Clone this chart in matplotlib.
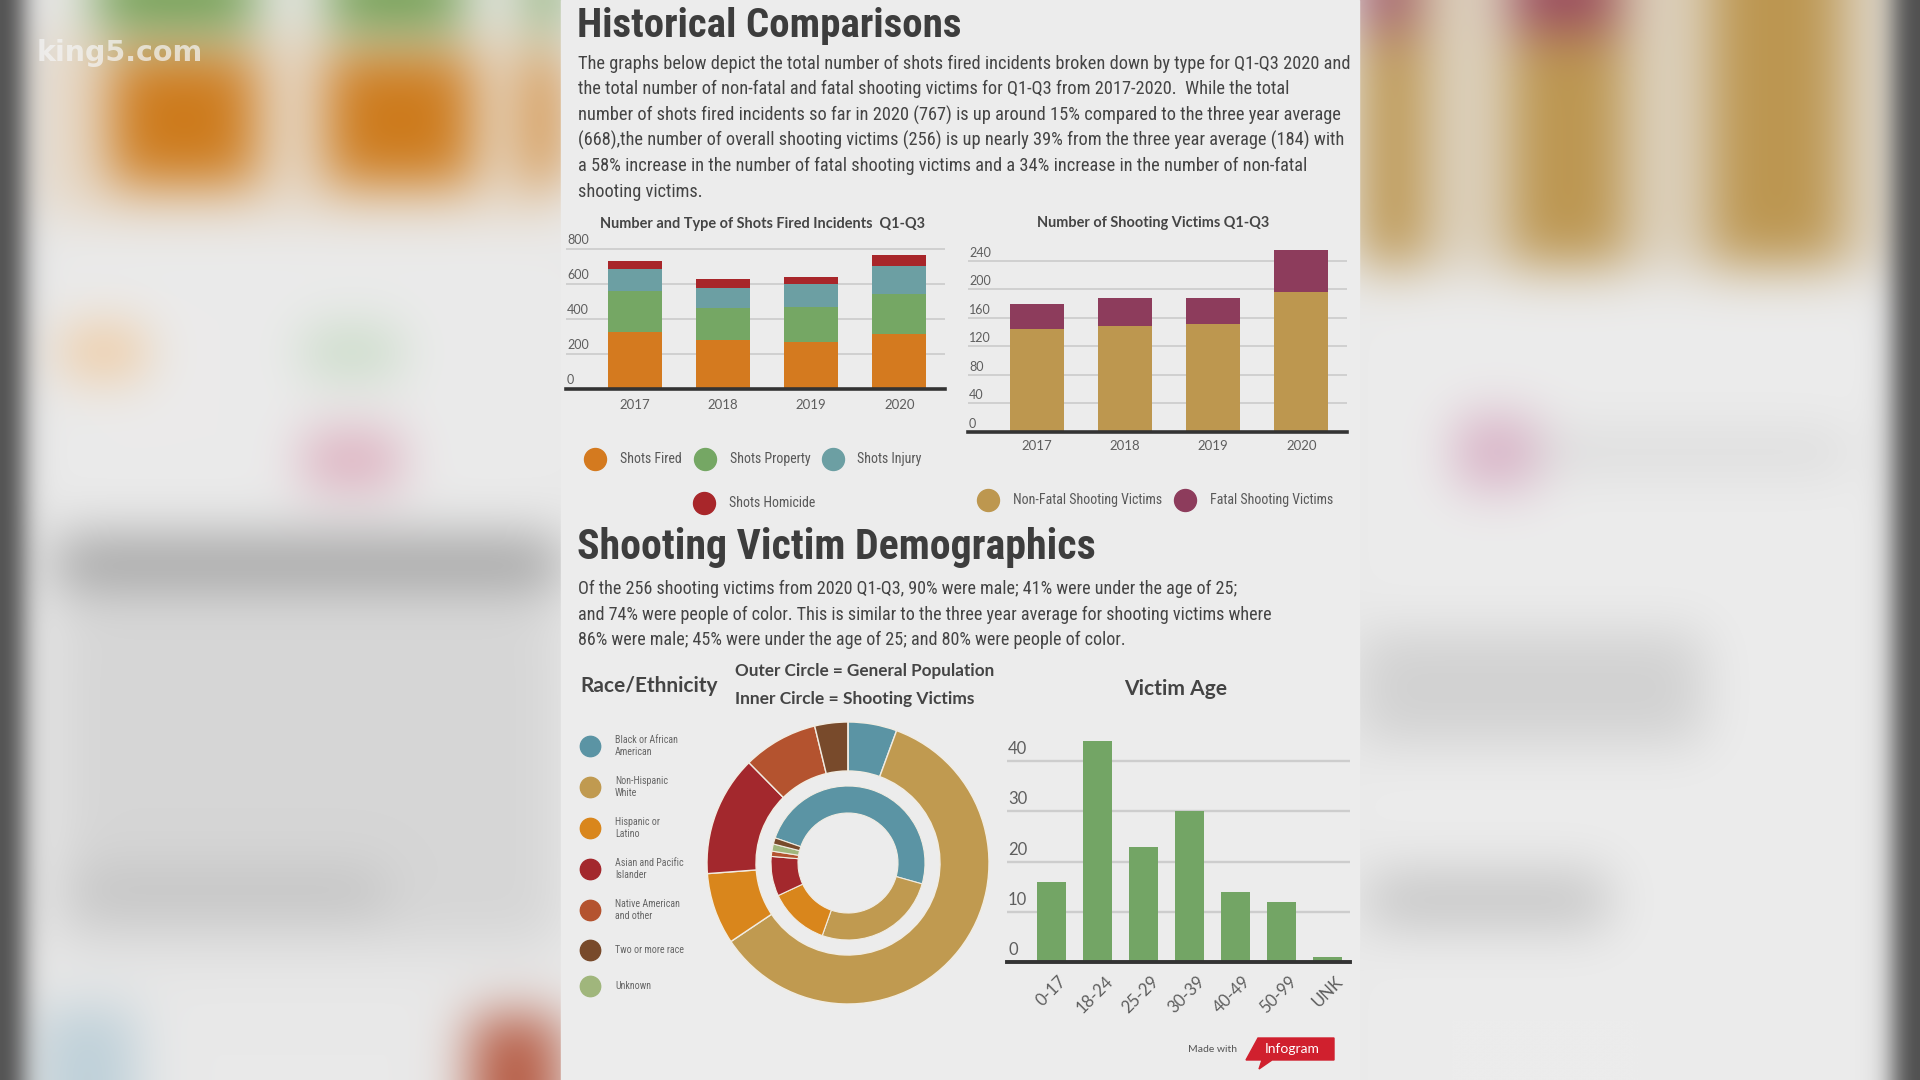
import numpy as np
import matplotlib
matplotlib.use('Agg')
import matplotlib.pyplot as plt
from matplotlib import font_manager as fm
from matplotlib.colors import to_rgb
from matplotlib.patches import Rectangle, Polygon
from matplotlib.transforms import ScaledTranslation

years = ['2017', '2018', '2019', '2020']
shots_fired = [330, 282, 269, 314]
shots_property = [232, 181, 203, 233]
shots_injury = [126, 118, 128, 155]
shots_homicide = [45, 46, 42, 65]

nonfatal_victims = [144, 148, 151, 197]
fatal_victims = [36, 40, 37, 59]

age_groups = ['0-17', '18-24', '25-29', '30-39', '40-49', '50-99', 'UNK']
age_counts = [16, 44, 23, 30, 14, 12, 1]

race_labels = ['Black or African\nAmerican', 'Non-Hispanic\nWhite', 'Hispanic or\nLatino',
               'Asian and Pacific\nIslander', 'Native American\nand other', 'Two or more race', 'Unknown']
general_population = [5.6, 60.0, 8.2, 13.8, 8.6, 3.8, 0.0]   # outer ring, %
shooting_victims = [49.0, 26.0, 12.6, 8.3, 1.1, 1.3, 1.5]     # inner ring, %
inner_order = [0, 1, 2, 3, 4, 6, 5]

shot_labels = ['Shots Fired', 'Shots Property', 'Shots Injury', 'Shots Homicide']
victim_labels = ['Non-Fatal Shooting Victims', 'Fatal Shooting Victims']

# ---- colours ----
c_fired, c_prop, c_inj, c_hom = '#d47a1f', '#75a764', '#6c9fa3', '#a8262a'
c_nonfatal, c_fatal = '#bd974f', '#8d3c5c'
race_colors = ['#5b94a4', '#c09a50', '#d9861c', '#a3282d', '#b4532f', '#784a2b', '#a0b67c']
c_age = '#73a565'
ink = '#3d3d3d'
tick_c = '#5e5e5e'
grid_c = '#cdcdcd'

names = {f.name for f in fm.fontManager.ttflist}
NARROW = next((n for n in ['Liberation Sans Narrow', 'Roboto Condensed', 'Open Sans Condensed']
               if n in names), 'Roboto')
SANS = 'Lato'

W, H = 1920, 1080
fig = plt.figure(figsize=(19.2, 10.8), dpi=100)


def rect(x0, y0, x1, y1):
    return [x0 / W, 1 - y1 / H, (x1 - x0) / W, (y1 - y0) / H]


# ---- blurred TV background (zoomed copy of the same page) ----
bg = fig.add_axes([0, 0, 1, 1])
bg.set_axis_off()
yy, xx = np.mgrid[4:1080:8, 4:1920:8]
img = np.full(xx.shape + (3,), 0.915)


def box(x0, y0, x1, y1, col, a=1.0):
    m = ((xx >= x0) & (xx <= x1) & (yy >= y0) & (yy <= y1)).astype(float)[..., None] * a
    img[:] = img * (1 - m) + np.array(to_rgb(col)) * m


# left side
box(40, 30, 561, 215, '#e6d6c2', 0.9)
box(100, 0, 255, 34, '#77a45c')
box(325, 0, 465, 34, '#77a45c')
box(530, 0, 561, 34, '#77a45c')
box(114, 60, 254, 186, '#cd7a1b')
box(328, 60, 468, 186, '#cd7a1b')
box(532, 60, 561, 186, '#cd7a1b')
box(60, 250, 561, 520, '#ebebeb')
box(62, 326, 142, 378, '#f0c18c', 0.85)
box(306, 326, 402, 378, '#c2d8bf', 0.85)
box(302, 430, 398, 490, '#dba6b8', 0.9)
box(60, 540, 561, 590, '#a0a0a0', 0.95)
box(60, 610, 561, 1000, '#d4d4d4', 0.9)
box(70, 876, 380, 912, '#bfbfbf', 0.9)
box(60, 945, 561, 1080, '#e9e9e9', 0.9)
box(38, 1010, 132, 1080, '#bccfd8', 0.95)
box(476, 1020, 561, 1080, '#b3533a', 0.95)
# right side
box(1359, 0, 1895, 272, '#ddd2bf')
box(1359, 0, 1420, 265, '#bc9650')
box(1510, 0, 1627, 265, '#bc9650')
box(1710, 0, 1837, 265, '#bc9650')
box(1359, 0, 1414, 28, '#a05a6c')
box(1513, 0, 1612, 28, '#9a4c61')
box(1359, 300, 1895, 1080, '#ececec')
box(1460, 420, 1537, 485, '#d6aac1', 0.9)
box(1540, 430, 1850, 470, '#d9d9d9', 0.85)
box(1359, 632, 1700, 740, '#d0d0d0', 0.95)
box(1370, 872, 1610, 925, '#c4c4c4', 0.95)

# soften everything like an out-of-focus zoom
k = np.exp(-0.5 * (np.arange(-10, 11) / 3.2) ** 2)
k /= k.sum()
pad = np.pad(img, ((10, 10), (0, 0), (0, 0)), mode='edge')
img = np.stack([np.apply_along_axis(np.convolve, 0, pad[..., c], k, 'valid') for c in range(3)], -1)
pad = np.pad(img, ((0, 0), (10, 10), (0, 0)), mode='edge')
img = np.stack([np.apply_along_axis(np.convolve, 1, pad[..., c], k, 'valid') for c in range(3)], -1)

# darkened screen edges
edge = (1 / (1 + np.exp((xx - 24) / 7)) + 1 / (1 + np.exp((1893 - xx) / 7)))[..., None]
img = img * (1 - edge) + np.array(to_rgb('#4c4c4c')) * edge

bg.imshow(np.clip(img, 0, 1), extent=[0, W, H, 0], interpolation='bicubic', aspect='auto')
bg.add_patch(Rectangle((561, 0), 798, 1080, color='#ececec'))
bg.set_xlim(0, W)
bg.set_ylim(H, 0)


def style_bar_axes(ax, ticks, fs, dy):
    ax.set_facecolor('none')
    for s in ax.spines.values():
        s.set_visible(False)
    ax.set_yticks(ticks)
    ax.set_yticklabels([])
    ax.tick_params(axis='y', length=0)
    ax.tick_params(axis='x', length=0, colors=tick_c)
    ax.yaxis.grid(True, color=grid_c, lw=1.3)
    ax.set_axisbelow(True)
    for v in ticks:
        ax.annotate(str(v), xy=(0, v), xycoords=ax.get_yaxis_transform(), xytext=(1, dy),
                    textcoords='offset pixels', ha='left', va='center', fontsize=fs,
                    color=tick_c, family=SANS)


# ---- chart 1: shots fired incidents ----
ax1 = fig.add_axes(rect(566, 245, 945, 389.3))
x = np.arange(len(years))
bottom = np.zeros(len(years))
for vals, col in zip([shots_fired, shots_property, shots_injury, shots_homicide],
                     [c_fired, c_prop, c_inj, c_hom]):
    ax1.bar(x, vals, bottom=bottom, width=0.61, color=col, zorder=2)
    bottom += np.array(vals)
ax1.set_xlim(-0.784, 3.52)
ax1.set_ylim(0, 824)
style_bar_axes(ax1, [0, 200, 400, 600, 800], 9, 9)
ax1.set_xticks(x)
ax1.set_xticklabels(years, fontsize=9.5, family=SANS)
ax1.tick_params(axis='x', pad=7)
ax1.axhline(0, color='#333333', lw=2.6, clip_on=False, zorder=3)

# ---- chart 2: shooting victims ----
ax2 = fig.add_axes(rect(968, 240, 1347, 431.7))
ax2.bar(x, nonfatal_victims, width=0.61, color=c_nonfatal, zorder=2)
ax2.bar(x, fatal_victims, bottom=nonfatal_victims, width=0.61, color=c_fatal, zorder=2)
ax2.set_xlim(-0.784, 3.52)
ax2.set_ylim(0, 269.6)
style_bar_axes(ax2, [0, 40, 80, 120, 160, 200, 240], 9, 8)
ax2.set_xticks(x)
ax2.set_xticklabels(years, fontsize=9.5, family=SANS)
ax2.tick_params(axis='x', pad=6)
ax2.axhline(0, color='#333333', lw=2.6, clip_on=False, zorder=3)

# ---- chart 3: victim age ----
ax3 = fig.add_axes(rect(1007, 730, 1350, 962.3))
xa = np.arange(len(age_groups))
ax3.bar(xa, age_counts, width=0.63, color=c_age, zorder=2)
ax3.set_xlim(-0.967, 6.49)
ax3.set_ylim(0, 46.2)
style_bar_axes(ax3, [0, 10, 20, 30, 40], 12, 12)
ax3.yaxis.grid(True, color=grid_c, lw=1.7)
ax3.set_xticks(xa)
ax3.set_xticklabels(age_groups, fontsize=12, family=SANS, rotation=45, ha='right',
                    rotation_mode='anchor')
ax3.tick_params(axis='x', pad=8)
for lab in ax3.get_xticklabels():
    lab.set_transform(lab.get_transform() + ScaledTranslation(0.07, 0, fig.dpi_scale_trans))
ax3.axhline(0, color='#333333', lw=2.8, clip_on=False, zorder=3)

# ---- donut: race / ethnicity ----
pax = fig.add_axes(rect(848 - 146, 863 - 146, 848 + 146, 863 + 146))
pax.pie(general_population, radius=141, colors=race_colors, startangle=90, counterclock=False,
        wedgeprops=dict(width=49, edgecolor='#f1ece2', linewidth=1.0))
pax.pie([shooting_victims[i] for i in inner_order], radius=77,
        colors=[race_colors[i] for i in inner_order], startangle=161, counterclock=False,
        wedgeprops=dict(width=27, edgecolor='#f1ece2', linewidth=0.8))
pax.set_xlim(-146, 146)
pax.set_ylim(-146, 146)
pax.set_aspect('equal')
pax.set_axis_off()

# ---- text overlay (pixel coordinates) ----
ov = fig.add_axes([0, 0, 1, 1], zorder=10)
ov.set_xlim(0, W)
ov.set_ylim(H, 0)
ov.set_axis_off()
ov.patch.set_alpha(0)
renderer = fig.canvas.get_renderer()


def fit(t, width):
    bb = t.get_window_extent(renderer)
    t.set_fontsize(t.get_fontsize() * width / bb.width)
    return t.get_fontsize()


def txt(xp, yp, s, size, family=NARROW, color=ink, weight='normal', ha='left', **kw):
    return ov.text(xp, yp, s, fontsize=size, family=family, color=color, weight=weight,
                   ha=ha, va='center', **kw)


t = txt(577, 26, 'Historical Comparisons', 30, weight='bold')
fit(t, 385)

p1 = ["The graphs below depict the total number of shots fired incidents broken down by type for Q1-Q3 2020 and",
      "the total number of non-fatal and fatal shooting victims for Q1-Q3 from 2017-2020.  While the total",
      "number of shots fired incidents so far in 2020 (767) is up around 15% compared to the three year average",
      "(668),the number of overall shooting victims (256) is up nearly 39% from the three year average (184) with",
      "a 58% increase in the number of fatal shooting victims and a 34% increase in the number of non-fatal",
      "shooting victims."]
p1_y = [63.5, 89, 115, 140.6, 166.3, 192]
t = txt(578, p1_y[0], p1[0], 12, color='#444444')
fs = fit(t, 769)
for s, yv in zip(p1[1:], p1_y[1:]):
    txt(578, yv, s, fs, color='#444444')

t = txt(577, 548, 'Shooting Victim Demographics', 30, weight='bold')
fit(t, 519)

p2 = ["Of the 256 shooting victims from 2020 Q1-Q3, 90% were male; 41% were under the age of 25;",
      "and 74% were people of color. This is similar to the three year average for shooting victims where",
      "86% were male; 45% were under the age of 25; and 80% were people of color."]
p2_y = [589, 614.5, 640]
t = txt(578, p2_y[1], p2[1], 12, color='#444444')
fs = fit(t, 693)
for s, yv in zip([p2[0], p2[2]], [p2_y[0], p2_y[2]]):
    txt(578, yv, s, fs, color='#444444')

# chart headings
t = txt(763, 224, 'Number and Type of Shots Fired Incidents  Q1-Q3', 10, family=SANS,
        weight='bold', color='#454545', ha='center')
fit(t, 327)
t = txt(1153, 223, 'Number of Shooting Victims Q1-Q3', 10, family=SANS, weight='bold',
        color='#454545', ha='center')
fit(t, 233)
t = txt(580, 686, 'Race/Ethnicity', 14, family=SANS, weight='bold', color='#444444')
fit(t, 139)
t = txt(735, 671, 'Outer Circle = General Population', 12, family=SANS, weight='bold', color='#444444')
fit(t, 258)
t = txt(735, 699, 'Inner Circle = Shooting Victims', 12, family=SANS, weight='bold', color='#444444')
fit(t, 237)
t = txt(1176, 689, 'Victim Age', 14, family=SANS, weight='bold', color='#444444', ha='center')
fit(t, 103)

# legends
leg1 = [(595, 459, 620), (705, 459, 730), (833, 459, 857), (704, 503, 729)]
for (cx, cy, lx), lab, col in zip(leg1, shot_labels, [c_fired, c_prop, c_inj, c_hom]):
    ov.scatter([cx], [cy], s=250, color=col, zorder=5)
    txt(lx, cy, lab, 10, color='#585858')
for cx, lx, lab, col in zip([988, 1185], [1013, 1210], victim_labels, [c_nonfatal, c_fatal]):
    ov.scatter([cx], [500], s=250, color=col, zorder=5)
    txt(lx, 500, lab, 10, color='#585858')

race_y = [746, 787, 828, 869, 910, 950, 986]
for yv, lab, col in zip(race_y, race_labels, race_colors):
    ov.scatter([590], [yv], s=215, color=col, zorder=5)
    txt(615, yv, lab, 7.2, color='#666666', linespacing=1.25)

# footer badge
txt(1188, 1049, 'Made with', 7.5, family=SANS, color='#555555')
ov.add_patch(Polygon([(1246, 1060), (1258, 1038), (1334, 1038), (1334, 1060), (1272, 1060),
                      (1259, 1069), (1262, 1060)], closed=True, color='#d0202e', zorder=5))
txt(1292, 1049, 'Infogram', 10, family=SANS, color='white', ha='center', zorder=6)

# station watermark
t = ov.text(37, 53, 'king5.com', fontsize=20, family='DejaVu Sans', weight='bold',
            color='#f4f4f4', alpha=0.72, ha='left', va='center')
fit(t, 167)

fig.savefig('out.png', dpi=100)
